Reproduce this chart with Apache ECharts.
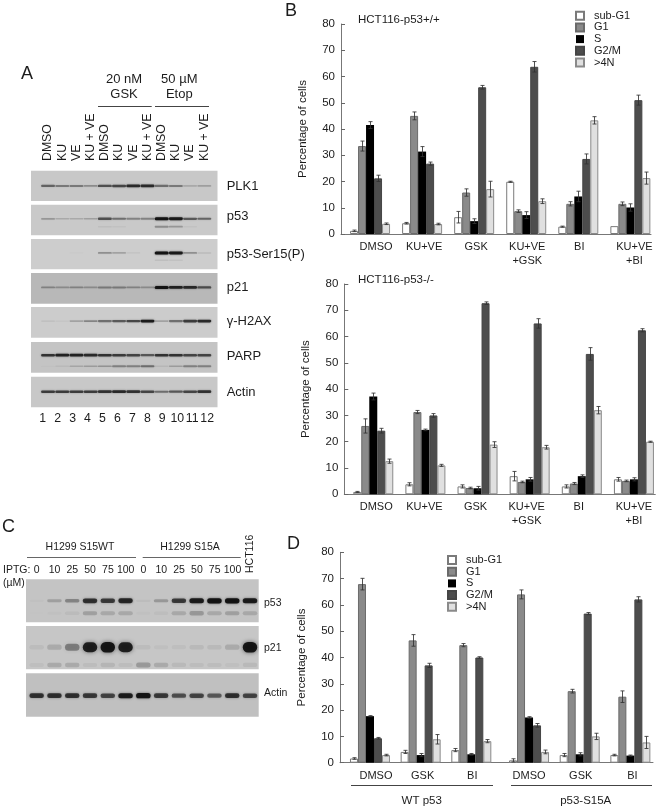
<!DOCTYPE html>
<html>
<head>
<meta charset="utf-8">
<style>html,body{margin:0;padding:0;background:#fff}#c{width:660px;height:810px}</style>
<script src="https://cdn.jsdelivr.net/npm/echarts@6/dist/echarts.min.js"></script>
</head>
<body>
<div id="c"></div>
<script>
// ---------- DATA ----------
const phases = ['sub-G1', 'G1', 'S', 'G2/M', '>4N'];
const yTicksMax = 80;
const bCategories = ['DMSO', 'KU+VE', 'GSK', 'KU+VE\n+GSK', 'BI', 'KU+VE\n+BI'];
const dCategoriesWT = ['DMSO', 'GSK', 'BI'];
const dCategoriesS15A = ['DMSO', 'GSK', 'BI'];

// Panel B, HCT116-p53+/+
const b1SubG1 = [1.2, 4.1, 6.4, 19.9, 2.8, 3.0];
const b1G1    = [33.5, 45.0, 15.8, 8.7, 11.5, 11.5];
const b1S     = [41.5, 31.4, 4.9, 7.2, 14.3, 10.1];
const b1G2M   = [21.2, 26.8, 55.9, 63.7, 28.6, 51.0];
const b1Gt4N  = [3.9, 3.8, 17.1, 12.5, 43.3, 21.3];
const b1SubG1Err = [0.3, 0.3, 2.2, 0.2, 0.2, 0];
const b1G1Err    = [1.9, 1.5, 1.4, 0.5, 0.8, 0.7];
const b1SErr     = [1.3, 1.9, 0.9, 1.3, 2.0, 1.4];
const b1G2MErr   = [1.2, 0.6, 0.7, 2.0, 1.9, 1.9];
const b1Gt4NErr  = [0.3, 0.3, 3.0, 0.9, 1.4, 2.3];

// Panel B, HCT116-p53-/-
const b2SubG1 = [0.9, 3.8, 3.0, 6.9, 3.0, 5.7];
const b2G1    = [26.0, 31.3, 2.4, 4.7, 4.1, 5.1];
const b2S     = [37.2, 24.5, 2.3, 5.7, 6.9, 5.7];
const b2G2M   = [24.2, 30.0, 72.7, 65.0, 53.4, 62.4];
const b2Gt4N  = [12.6, 11.0, 18.9, 17.9, 32.0, 20.0];
const b2SubG1Err = [0.2, 0.6, 0.6, 1.8, 0.6, 0.7];
const b2G1Err    = [2.7, 0.6, 0.3, 0.3, 0.4, 0.3];
const b2SErr     = [1.3, 0.3, 0.7, 0.7, 0.5, 0.6];
const b2G2MErr   = [0.9, 0.7, 0.5, 1.8, 2.4, 0.6];
const b2Gt4NErr  = [0.8, 0.4, 1.1, 0.7, 1.4, 0.2];

// Panel D, WT p53
const dwSubG1 = [1.6, 4.1, 4.8];
const dwG1    = [67.9, 46.5, 44.7];
const dwS     = [17.7, 2.9, 3.2];
const dwG2M   = [9.3, 37.0, 40.0];
const dwGt4N  = [2.9, 8.9, 8.2];
const dwSubG1Err = [0.3, 0.6, 0.6];
const dwG1Err    = [2.2, 2.2, 0.6];
const dwSErr     = [0.2, 0.6, 0.3];
const dwG2MErr   = [0.3, 0.8, 0.3];
const dwGt4NErr  = [0.3, 1.8, 0.6];

// Panel D, p53-S15A
const dsSubG1 = [0.9, 2.9, 2.9];
const dsG1    = [64.0, 27.2, 25.1];
const dsS     = [17.2, 3.2, 2.7];
const dsG2M   = [14.2, 56.7, 62.1];
const dsGt4N  = [4.1, 10.0, 7.7];
const dsSubG1Err = [0.6, 0.6, 0.3];
const dsG1Err    = [1.7, 0.7, 2.2];
const dsSErr     = [0.3, 0.6, 0.2];
const dsG2MErr   = [0.7, 0.4, 1.0];
const dsGt4NErr  = [0.7, 1.2, 2.3];

// Panel A, blot lanes and band strengths (0-1, read by eye)
const aLaneLabels = ['DMSO','KU','VE','KU + VE','DMSO','KU','VE','KU + VE','DMSO','KU','VE','KU + VE'];
const aLaneNumbers = ['1','2','3','4','5','6','7','8','9','10','11','12'];
const aPLK1     = [.55,.45,.45,.35,.65,.7,.85,.85,.5,.45,.2,.25];
const aP53      = [.3,.2,.2,.25,.65,.5,.4,.4,1,.95,.6,.55];
const aP53Low   = [0,0,0,0,.08,.05,0,0,.35,.3,.05,0];
const aSer15    = [0,0,.03,0,.35,.25,.08,0,1,.95,.35,.12];
const aSer15Low = [0,0,0,0,0,0,0,0,.1,.08,0,0];
const aP21      = [.35,.3,.35,.3,.4,.4,.35,.3,1,.9,.85,.65];
const aH2AX     = [.1,.06,.25,.4,.5,.6,.7,.95,.25,.5,.75,.85];
const aPARP     = [.8,.9,.9,.85,.8,.75,.7,.6,.8,.8,.7,.7];
const aPARPLow  = [.03,.08,.2,.25,.3,.4,.4,.5,.1,.25,.4,.4];
const aActin    = [.75,.75,.75,.75,.8,.85,.8,.7,.5,.6,.7,.8];

// Panel C, blot lanes and band strengths
const cLaneLabels = ['0','10','25','50','75','100','0','10','25','50','75','100',''];
const cP53      = [.05,.3,.45,.85,.8,.9,.1,.35,.8,.95,1,1,.95];
const cP53Low   = [.02,.05,.12,.3,.25,.25,.05,.08,.25,.35,.25,.3,.25];
const cP21      = [.12,.25,.5,.95,1,.95,.12,.08,.1,.15,.15,.25,1];
const cP21Low   = [.1,.25,.25,.12,.18,.12,.35,.25,.15,.12,.12,.08,.15];
const cActin    = [.85,.85,.85,.8,.75,.95,1,.8,.7,.75,.65,.85,.75];

// ---------- STYLE ----------
const FONT = '"Liberation Sans", Arial, sans-serif';
const TXT = '#1c1c1c';
const BAR_W = 8;
const phaseStyle = [
  {color:'#ffffff', borderColor:'#7a7a7a', borderWidth:1},
  {color:'#8a8a8a', borderColor:'#6a6a6a', borderWidth:1},
  {color:'#000000', borderColor:'#000000', borderWidth:0},
  {color:'#4d4d4d', borderColor:'#454545', borderWidth:1},
  {color:'#e0e0e0', borderColor:'#8a8a8a', borderWidth:1}
];

const grids = [], xAxes = [], yAxes = [], series = [];
function addGrid(g){ grids.push(g); return grids.length - 1; }

// Axis frame: y ticks, y title, baseline
function axisFrame(left, top, width, height){
  const g = addGrid({left, top, width, height});
  xAxes.push({gridIndex:g, type:'category', data:[''],
    axisLine:{show:true, lineStyle:{color:'#777', width:1}},
    axisTick:{show:false}, axisLabel:{show:false}, splitLine:{show:false}});
  yAxes.push({gridIndex:g, type:'value', min:0, max:yTicksMax, interval:10,
    name:'Percentage of cells', nameLocation:'middle', nameGap:32,
    nameTextStyle:{fontFamily:FONT, fontSize:11.5, color:TXT},
    axisLine:{show:true, lineStyle:{color:'#777', width:1}},
    axisTick:{show:true, inside:true, length:4, lineStyle:{color:'#666', width:1}},
    axisLabel:{fontFamily:FONT, fontSize:11.5, color:TXT, margin:6},
    splitLine:{show:false}});
}

function errorRender(k){
  return function(params, api){
    const c = api.value(0), v = api.value(1), e = api.value(2);
    if (!e) return null;
    const x = Math.round(api.coord([c, 0])[0] + (k - 2) * BAR_W) + 0.5;
    const t = api.coord([c, v + e])[1], b = api.coord([c, v - e])[1];
    const st = {stroke:'#333', lineWidth:1, opacity:0.85};
    return {type:'group', children:[
      {type:'line', shape:{x1:x, y1:t, x2:x, y2:b}, style:st},
      {type:'line', shape:{x1:x-2, y1:t, x2:x+2, y2:t}, style:st},
      {type:'line', shape:{x1:x-2, y1:b, x2:x+2, y2:b}, style:st}
    ]};
  };
}

// Bars with their own category scale
function barPanel(left, top, width, height, cats, nudge, vals, errs){
  const g = addGrid({left, top, width, height});
  const xi = xAxes.length, yi = yAxes.length;
  xAxes.push({gridIndex:g, type:'category',
    data:cats.map((c,i)=>({value:c, textStyle:{padding:[0,Math.max(0,-nudge[i]*2),0,Math.max(0,nudge[i]*2)]}})),
    axisLine:{show:false}, axisTick:{show:false}, splitLine:{show:false},
    axisLabel:{fontFamily:FONT, fontSize:11, color:TXT, margin:6, lineHeight:14, interval:0}});
  yAxes.push({gridIndex:g, type:'value', min:0, max:yTicksMax, show:false, splitLine:{show:false}});
  phases.forEach((p,k)=>{
    series.push({type:'bar', name:p, xAxisIndex:xi, yAxisIndex:yi, data:vals[k],
      barWidth:BAR_W, barGap:0, itemStyle:phaseStyle[k], silent:true, animation:false});
    series.push({type:'custom', name:p+' error', xAxisIndex:xi, yAxisIndex:yi, z:5, animation:false, silent:true,
      data:vals[k].map((v,i)=>[i,v,errs[k][i]]), encode:{x:0,y:1}, renderItem:errorRender(k)});
  });
}

// Blot panel: grid background + soft bands drawn from the band arrays
function blot(left, top, width, height, bg, xMin, xMax, rows){
  const g = addGrid({left, top, width, height, show:true, backgroundColor:bg, borderWidth:0});
  const xi = xAxes.length, yi = yAxes.length;
  xAxes.push({gridIndex:g, type:'value', min:xMin, max:xMax, show:false, splitLine:{show:false}});
  yAxes.push({gridIndex:g, type:'value', min:0, max:1, inverse:true, show:false, splitLine:{show:false}});
  rows.forEach(r=>{
    series.push({type:'custom', xAxisIndex:xi, yAxisIndex:yi, silent:true, animation:false, clip:true,
      data:r.vals.map((v,i)=>[i+1, r.y, v]), encode:{x:0,y:1},
      renderItem(params, api){
        const s = api.value(2);
        if (s <= 0) return null;
        const p = api.coord([api.value(0), api.value(1)]);
        const h = 2*(r.ry0 + r.ry1*s), w = r.w;
        const a = Math.pow(s, r.gamma)*0.92;
        return {type:'rect', shape:{x:p[0]-w/2, y:p[1]-h/2, width:w, height:h, r:h/2},
          style:{fill:'rgba(12,12,12,'+a+')', shadowBlur:r.blur, shadowColor:'rgba(12,12,12,'+a*0.7+')'}};
      }});
  });
}

// Lane labels on a hidden-band category scale
function laneLabels(left, top, width, cats, opt){
  const g = addGrid({left, top, width, height:1});
  xAxes.push({gridIndex:g, type:'category', data:cats, position:opt.position||'bottom',
    axisLine:{show:false}, axisTick:{show:false}, splitLine:{show:false},
    axisLabel:{fontFamily:FONT, fontSize:opt.size, color:TXT, margin:opt.margin||0, rotate:opt.rotate||0, interval:0}});
  yAxes.push({gridIndex:g, type:'value', show:false, splitLine:{show:false}});
}

// ---------- PANEL A ----------
const aMin = -0.2, aMax = 12.93;
const A = (y,h,bg,rows)=>blot(31, y, 186.5, h, bg, aMin, aMax, rows);
const r = (vals,y)=>({vals,y,w:14,ry0:0.6,ry1:0.9,blur:2,gamma:1.1});
A(170.7,30.4,'#c8c8c8',[r(aPLK1,.5)]);
A(204.7,30.6,'#c9c9c9',[r(aP53,.46), r(aP53Low,.72)]);
A(239,30.3,'#cdcdcd',[r(aSer15,.46), r(aSer15Low,.7)]);
A(273,30.7,'#b8b8b8',[r(aP21,.47)]);
A(307,30.7,'#cccccc',[r(aH2AX,.46)]);
A(342,30.7,'#c4c4c4',[r(aPARP,.43), r(aPARPLow,.79)]);
A(376.7,30.6,'#c8c8c8',[r(aActin,.49)]);
laneLabels(40.9, 161, 170.4, aLaneLabels, {size:12.3, rotate:90, position:'top', margin:0});
laneLabels(35.2, 410, 179.4, aLaneNumbers, {size:12.3, margin:2});

// ---------- PANEL C ----------
const cMin = 0.4, cMax = 13.49;
const C = (y,h,bg,rows)=>blot(26, y, 232.7, h, bg, cMin, cMax, rows);
const rc = (vals,y,ry0,ry1,blur)=>({vals,y,w:14.5,ry0,ry1,blur,gamma:1.35});
C(579.3,43,'#c4c4c4',[rc(cP53,.5,1,1.6,2.5), rc(cP53Low,.79,1.5,2,3.5)]);
C(626,43.3,'#c6c6c6',[rc(cP21,.49,1.8,3.4,4), rc(cP21Low,.9,1.8,2,3.5)]);
C(673.3,43.4,'#c0c0c0',[rc(cActin,.516,1.2,1.4,2.5)]);
laneLabels(27.8, 564, 231.4, cLaneLabels, {size:10.5, margin:0});

// ---------- PANEL B ----------
axisFrame(341, 24, 310, 210);
barPanel(344, 24, 312.4, 210, bCategories, [6,2,2,1,1,4],
  [b1SubG1,b1G1,b1S,b1G2M,b1Gt4N], [b1SubG1Err,b1G1Err,b1SErr,b1G2MErr,b1Gt4NErr]);
axisFrame(344.3, 284, 311, 210.3);
barPanel(347.2, 284, 312.8, 210.3, bCategories, [3,-1,-2,-3,-3,0],
  [b2SubG1,b2G1,b2S,b2G2M,b2Gt4N], [b2SubG1Err,b2G1Err,b2SErr,b2G2MErr,b2Gt4NErr]);

// ---------- PANEL D ----------
axisFrame(340, 552.3, 313, 210.4);
barPanel(344.65, 552.3, 152, 210.4, dCategoriesWT, [6,2,1],
  [dwSubG1,dwG1,dwS,dwG2M,dwGt4N], [dwSubG1Err,dwG1Err,dwSErr,dwG2MErr,dwGt4NErr]);
barPanel(503.7, 552.3, 152, 210.4, dCategoriesS15A, [0,1,2],
  [dsSubG1,dsG1,dsS,dsG2M,dsGt4N], [dsSubG1Err,dsG1Err,dsSErr,dsG2MErr,dsGt4NErr]);

// ---------- ANNOTATION ----------
const T = (text,x,y,size,align,extra)=>Object.assign({type:'text', silent:true,
  style:{text, x, y, font:size+'px '+FONT, fill:TXT, textAlign:align||'left', textVerticalAlign:'middle'}}, extra||{});
const L = (x1,x2,y,c)=>({type:'line', silent:true, shape:{x1,y1:y,x2,y2:y}, style:{stroke:c||'#444', lineWidth:1}});
const graphics = [
  T('A',21,74.5,18), T('B',285,11,18), T('C',2,527.5,18), T('D',287,544.5,18),
  T('HCT116-p53+/+',358,20,11.5), T('HCT116-p53-/-',358,280,11.5),
  T('20 nM',124,79,13,'center'), T('GSK',124,94.3,13,'center'),
  T('50 µM',179.3,79,13,'center'), T('Etop',179.3,94.3,13,'center'),
  L(98,151.7,106.5), L(155,209,106.5),
  T('PLK1',226.7,186.7,13), T('p53',226.7,216.7,13), T('p53-Ser15(P)',226.7,254,13),
  T('p21',226.7,287,13), T('γ-H2AX',226.7,321,13), T('PARP',226.7,356.7,13), T('Actin',226.7,392.7,13),
  T('H1299 S15WT',80,547,10.5,'center'), T('H1299 S15A',190,547,10.5,'center'),
  L(27,136,557.5,'#666'), L(142.7,240.7,557.5,'#666'),
  T('IPTG:',3,570.5,10.5), T('(µM)',3,583,10.5),
  T('HCT116',0,0,10.5,'left',{x:250,y:573,rotation:Math.PI/2}),
  T('p53',264,603,10.5), T('p21',264,647.7,10.5), T('Actin',264,692.7,10.5),
  L(351,493,785.5), L(511,652,785.5),
  T('WT p53',421.7,801,11.5,'center'), T('p53-S15A',585.7,801,11.5,'center')
];

const legendBase = {orient:'vertical', data:phases, icon:'rect', itemWidth:8, itemHeight:8, padding:0,
  itemGap:0.7, selectedMode:false,
  textStyle:{fontFamily:FONT, fontSize:11, color:TXT, padding:[0,0,0,5]}};

const chart = echarts.init(document.getElementById('c'), null, {renderer:'canvas'});
chart.setOption({
  animation:false, backgroundColor:'#ffffff',
  textStyle:{fontFamily:FONT},
  grid:grids, xAxis:xAxes, yAxis:yAxes, series,
  legend:[
    Object.assign({}, legendBase, {left:575, top:10.2}),
    Object.assign({}, legendBase, {left:447, top:554.5})
  ],
  graphic:graphics
});
</script>
</body>
</html>
